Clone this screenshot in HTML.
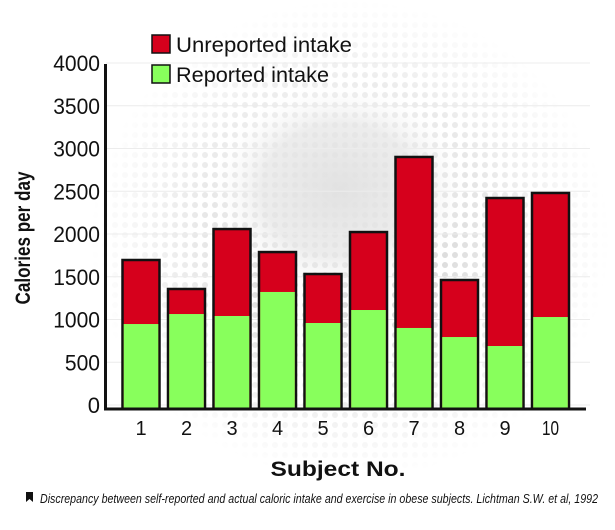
<!DOCTYPE html>
<html><head><meta charset="utf-8"><style>
html,body{margin:0;padding:0;background:#fff;}
body{width:615px;height:525px;position:relative;overflow:hidden;font-family:"Liberation Sans",sans-serif;}
</style></head><body>
<svg id="chart" width="615" height="525" xmlns="http://www.w3.org/2000/svg" font-family="Liberation Sans, sans-serif">
<defs>
<radialGradient id="blob" cx="0.5" cy="0.5" r="0.5">
<stop offset="0" stop-color="#e2e2e2"/><stop offset="0.6" stop-color="#e8e8e8" stop-opacity="0.8"/><stop offset="1" stop-color="#fff" stop-opacity="0"/>
</radialGradient>
<pattern id="dots" width="10" height="10" patternUnits="userSpaceOnUse"><circle cx="5" cy="5" r="3" fill="#dcdcdc"/></pattern>
<radialGradient id="fade" cx="0.5" cy="0.5" r="0.5"><stop offset="0.35" stop-color="#fff" stop-opacity="1"/><stop offset="1" stop-color="#fff" stop-opacity="0"/></radialGradient>
<mask id="m"><rect x="90" y="0" width="520" height="480" fill="url(#fade)"/></mask>
</defs>
<rect x="90" y="0" width="520" height="480" fill="url(#dots)" mask="url(#m)"/>
<ellipse cx="340" cy="190" rx="130" ry="110" fill="url(#blob)"/>
<g id="grid"></g><g id="bars"></g><g id="axes"></g>
</svg>
<script>
const categories=["1","2","3","4","5","6","7","8","9","10"];
const reported=[947,1064,1041,1322,959,1111,901,795,690,1029];
const unreported=[749,293,1017,467,573,912,2000,667,1731,1451];
const yTicks=[0,500,1000,1500,2000,2500,3000,3500,4000];
const NS="http://www.w3.org/2000/svg";
const y0=405,k=0.0855;
function y(v){return y0-v*k;}
function x(i){return 141+i*45.5;}
const bw=37;
function mk(tag,attrs,parent,text){const e=document.createElementNS(NS,tag);for(const a in attrs)e.setAttribute(a,attrs[a]);if(text!==undefined)e.textContent=text;parent.appendChild(e);return e;}
const grid=document.getElementById('grid'),bars=document.getElementById('bars'),axes=document.getElementById('axes');
yTicks.forEach(t=>{
 const l=mk('line',{x1:106,x2:590,y1:y(t),y2:y(t),stroke:'#ececec','stroke-width':1},grid);
 
 
 const s=String(t);
 const attrs={x:100,y:y(t)+8,'text-anchor':'end','font-size':22,fill:'#111'};
 if(s.length>1){attrs.textLength=s.length*11.7;attrs.lengthAdjust='spacingAndGlyphs';}
 const tx=mk('text',attrs,axes,s);
 
 
});
categories.forEach((c,i)=>{
 const tot=reported[i]+unreported[i];
 const g=mk('g',{},bars);
 
 
 const r=mk('rect',{x:x(i)-bw/2,y:y(tot),width:bw,height:409-y(tot),fill:'#d6001c',stroke:'#111','stroke-width':2.5},g);
 
 
 const gr=mk('rect',{x:x(i)-bw/2+1.2,y:y(reported[i]),width:bw-2.4,height:408-y(reported[i]),fill:'#88ff5c'},g);
 
 
 const ta={x:x(i),y:435,'text-anchor':'middle','font-size':20,fill:'#111'};
 if(c.length>1){ta.textLength=17;ta.lengthAdjust='spacingAndGlyphs';}
 const t=mk('text',ta,axes,c);
 
 
});
let a=mk('line',{x1:105.5,x2:105.5,y1:64,y2:410,stroke:'#111','stroke-width':3},axes);


a=mk('line',{x1:104,x2:586,y1:409,y2:409,stroke:'#111','stroke-width':3},axes);


</script>
<svg width="615" height="525" style="position:absolute;left:0;top:0" xmlns="http://www.w3.org/2000/svg" font-family="Liberation Sans, sans-serif">
<text x="30" y="238" transform="rotate(-90 30 238)" text-anchor="middle" font-size="21" font-weight="bold" fill="#111" textLength="133" lengthAdjust="spacingAndGlyphs">Calories per day</text>
<text x="338" y="476" text-anchor="middle" font-size="21" font-weight="bold" fill="#111" textLength="135" lengthAdjust="spacingAndGlyphs">Subject No.</text>
<g>
<rect x="152" y="35" width="18" height="18" fill="#d6001c" stroke="#111" stroke-width="1.5"/>
<text x="176" y="52" font-size="21" fill="#111" textLength="176" lengthAdjust="spacingAndGlyphs">Unreported intake</text>
<rect x="152" y="65" width="18" height="18" fill="#88ff5c" stroke="#111" stroke-width="1.5"/>
<text x="176" y="82" font-size="21" fill="#111" textLength="153" lengthAdjust="spacingAndGlyphs">Reported intake</text>
</g>
<path d="M26 492 h7 v10 l-3.5 -3 l-3.5 3 z" fill="#111"/>
<text x="40" y="503" font-size="12.5" font-style="italic" fill="#111" textLength="558" lengthAdjust="spacingAndGlyphs">Discrepancy between self-reported and actual caloric intake and exercise in obese subjects. Lichtman S.W. et al, 1992</text>
</svg>
</body></html>
